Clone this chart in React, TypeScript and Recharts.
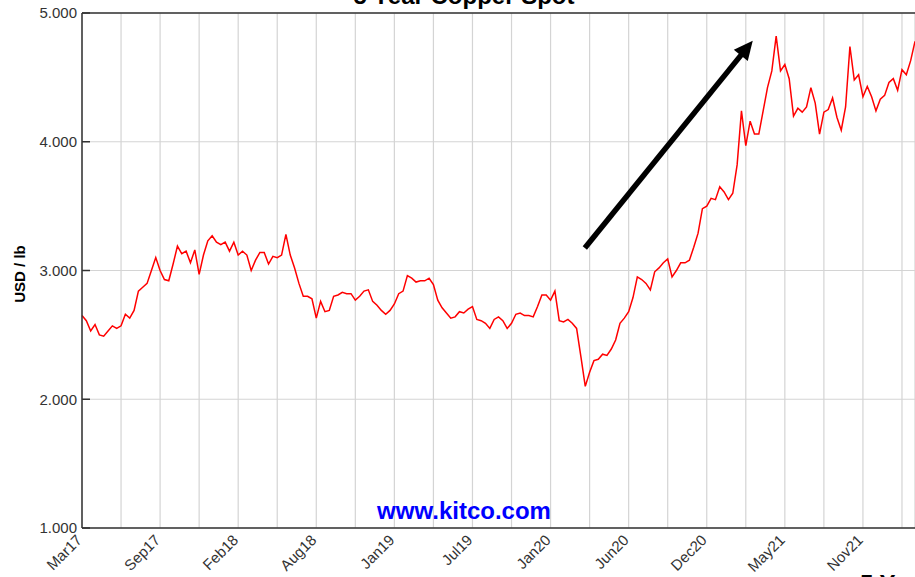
import React from 'react';
import { LineChart, Line, XAxis, YAxis, CartesianGrid, ReferenceLine } from 'recharts';

// Copper spot price (USD / lb), evenly spaced samples, Mar 2017 -> Mar 2022
const copperSpot: number[] = [
  2.65, 2.61, 2.53, 2.58, 2.50, 2.49, 2.53, 2.57, 2.55, 2.57, 2.66, 2.63, 2.69, 2.84, 2.87, 2.90, 3.00, 3.10, 3.00, 2.93,
  2.92, 3.05, 3.19, 3.13, 3.15, 3.06, 3.16, 2.97, 3.12, 3.23, 3.27, 3.22, 3.20, 3.22, 3.15, 3.22, 3.12, 3.15, 3.12,
  3.00, 3.08, 3.14, 3.14, 3.05, 3.11, 3.10, 3.12, 3.28, 3.12, 3.02, 2.90, 2.80, 2.80, 2.78, 2.63, 2.76, 2.68, 2.69, 2.80,
  2.81, 2.83, 2.82, 2.82, 2.77, 2.80, 2.84, 2.85, 2.76, 2.73, 2.69, 2.66, 2.69, 2.74, 2.82, 2.84, 2.96, 2.94, 2.91,
  2.92, 2.92, 2.94, 2.89, 2.77, 2.71, 2.67, 2.63, 2.64, 2.68, 2.67, 2.70, 2.72, 2.62, 2.61, 2.59, 2.55, 2.62, 2.64, 2.61,
  2.55, 2.59, 2.66, 2.67, 2.65, 2.65, 2.64, 2.72, 2.81, 2.81, 2.77, 2.84, 2.61, 2.60, 2.62, 2.59, 2.55, 2.33, 2.10,
  2.21, 2.30, 2.31, 2.35, 2.34, 2.39, 2.46, 2.59, 2.63, 2.68, 2.79, 2.95, 2.93, 2.90, 2.85, 2.99, 3.02, 3.06, 3.09, 2.95,
  3.00, 3.06, 3.06, 3.08, 3.18, 3.29, 3.48, 3.50, 3.56, 3.55, 3.65, 3.61, 3.55, 3.60, 3.82, 4.24, 3.97, 4.16, 4.06,
  4.06, 4.24, 4.42, 4.55, 4.82, 4.55, 4.60, 4.49, 4.20, 4.26, 4.23, 4.27, 4.42, 4.30, 4.06, 4.23, 4.25, 4.34, 4.19, 4.09,
  4.27, 4.74, 4.48, 4.52, 4.35, 4.43, 4.35, 4.24, 4.33, 4.36, 4.46, 4.49, 4.40, 4.56, 4.52, 4.63, 4.78,
];

const xGridTicks: number[] = [0, 9, 18, 27, 36, 45, 54, 63, 72, 81, 90, 99, 108, 117, 126, 135, 144, 153, 162, 171, 180, 189];
const xLabelTicks: number[] = [0, 18, 36, 54, 72, 90, 108, 126, 144, 162, 180];
const xLabelNames: string[] = ['Mar17', 'Sep17', 'Feb18', 'Aug18', 'Jan19', 'Jul19', 'Jan20', 'Jun20', 'Dec20', 'May21', 'Nov21'];
const yTicks: number[] = [1, 2, 3, 4, 5];

const arrowStart = { x: 115.9, y: 3.175 };
const arrowEnd = { x: 154.6, y: 4.785 };

const data = copperSpot.map((v, i) => ({ i, v }));

const FONT = '"Liberation Sans", Arial, sans-serif';

const XTick = (props: any) => {
  const { x, y, payload } = props;
  const idx = xLabelTicks.indexOf(payload.value);
  if (idx < 0) return null;
  const tx = x + 1;
  const ty = y + 5;
  return (
    <text
      x={tx}
      y={ty}
      transform={`rotate(-45 ${tx} ${ty})`}
      textAnchor="end"
      fontFamily={FONT}
      fontSize={15}
      fill="#333"
    >
      {xLabelNames[idx]}
    </text>
  );
};

const ArrowShape = (p: any) => {
  const { x1, y1, x2, y2 } = p;
  if ([x1, y1, x2, y2].some((n) => typeof n !== 'number' || isNaN(n))) return null;
  const dx = x2 - x1;
  const dy = y2 - y1;
  const len = Math.hypot(dx, dy);
  const ux = dx / len;
  const uy = dy / len;
  const hl = 19;
  const hw = 9;
  const bx = x2 - ux * hl;
  const by = y2 - uy * hl;
  const px = -uy;
  const py = ux;
  return (
    <g>
      <line x1={x1} y1={y1} x2={bx + ux * 3} y2={by + uy * 3} stroke="#000" strokeWidth={5.5} />
      <polygon
        points={`${x2},${y2} ${bx + px * hw},${by + py * hw} ${bx - px * hw},${by - py * hw}`}
        fill="#000"
      />
    </g>
  );
};

export default function App() {
  return (
    <div
      style={{
        position: 'absolute',
        left: 0,
        top: 0,
        width: 915,
        height: 577,
        overflow: 'hidden',
        background: '#fff',
      }}
    >
      <LineChart
        width={915}
        height={577}
        data={data}
        margin={{ top: 13, right: 0, bottom: 0, left: 0 }}
      >
        <CartesianGrid stroke="#d4d4d4" strokeWidth={1.2} />
        <XAxis
          dataKey="i"
          type="number"
          domain={[0, 192]}
          ticks={xGridTicks}
          interval={0}
          height={49}
          axisLine={{ stroke: '#333', strokeWidth: 1.5 }}
          tickLine={false}
          tick={<XTick />}
        />
        <YAxis
          type="number"
          domain={[1, 5]}
          ticks={yTicks}
          interval={0}
          width={82}
          tickSize={-8}
          tickMargin={13}
          axisLine={{ stroke: '#333', strokeWidth: 1.5 }}
          tickLine={{ stroke: '#333', strokeWidth: 1.5 }}
          tickFormatter={(v: number) => v.toFixed(3)}
          tick={{ fill: '#333', fontSize: 15, fontFamily: FONT }}
        />
        <ReferenceLine y={5} stroke="#333" strokeWidth={1.5} />
        <Line
          type="linear"
          dataKey="v"
          stroke="#ff0000"
          strokeWidth={1.5}
          dot={false}
          isAnimationActive={false}
        />
        <ReferenceLine segment={[arrowStart, arrowEnd]} ifOverflow="visible" shape={ArrowShape} />
      </LineChart>
      <svg
        width={915}
        height={577}
        style={{ position: 'absolute', left: 0, top: 0, pointerEvents: 'none' }}
      >
        <text x={464} y={4} textAnchor="middle" fontFamily={FONT} fontWeight="bold" fontSize={24} fill="#000">
          5 Year Copper Spot
        </text>
        <text x={464} y={519} textAnchor="middle" fontFamily={FONT} fontWeight="bold" fontSize={24} fill="#0000ff">
          www.kitco.com
        </text>
        <text
          x={19}
          y={274}
          transform="rotate(-90 19 274)"
          textAnchor="middle"
          dominantBaseline="central"
          fontFamily={FONT}
          fontWeight="bold"
          fontSize={15}
          fill="#000"
        >
          USD / lb
        </text>
        <text x={860} y={592} fontFamily={FONT} fontWeight="bold" fontSize={24} fill="#000">
          5 Year
        </text>
      </svg>
    </div>
  );
}
